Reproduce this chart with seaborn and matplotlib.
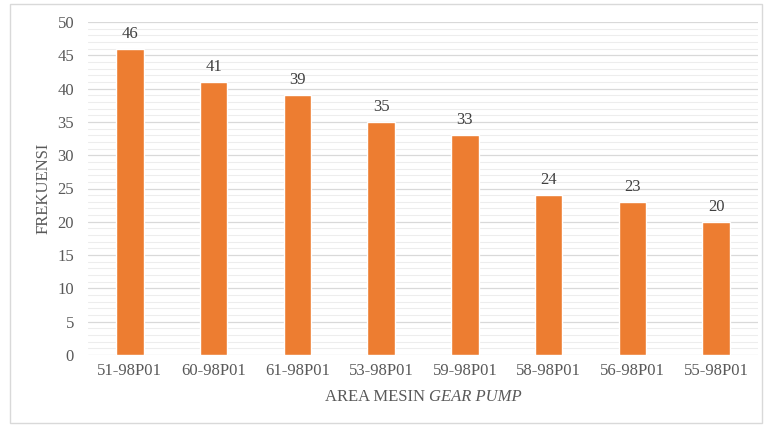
import matplotlib
matplotlib.use("Agg")
import matplotlib.pyplot as plt
import seaborn as sns
import pandas as pd
from matplotlib.patches import Rectangle
from matplotlib.ticker import MultipleLocator

categories = ["51-98P01", "60-98P01", "61-98P01", "53-98P01", "59-98P01", "58-98P01", "56-98P01", "55-98P01"]
values = [46, 41, 39, 35, 33, 24, 23, 20]

sns.set_theme(style="white")
plt.rcParams['font.family'] = ['Liberation Serif', 'DejaVu Serif']

df = pd.DataFrame({"area": categories, "freq": values})

fig = plt.figure(figsize=(7.66, 4.25), dpi=100)
ax = fig.add_axes([88/766, 1 - 355/425, (758 - 88)/766, (355 - 22)/425])

sns.barplot(data=df, x="area", y="freq", color="#ED7D31", saturation=1, width=0.33, ax=ax, zorder=3)

text_c = "#595959"
fs = 12
ax.set_ylim(0, 50)
ax.yaxis.set_major_locator(MultipleLocator(5))
ax.yaxis.set_minor_locator(MultipleLocator(1))
ax.grid(True, which="major", axis="y", color="#D9D9D9", linewidth=0.9, zorder=0)
ax.grid(True, which="minor", axis="y", color="#EDEDED", linewidth=0.8, zorder=0)
ax.set_axisbelow(True)
for s in ax.spines.values():
    s.set_visible(False)
ax.tick_params(axis="y", which="both", length=0, labelsize=fs, colors=text_c, pad=10)
ax.tick_params(axis="x", which="both", length=0, labelsize=fs, colors=text_c, pad=6)

for c in ax.containers:
    ax.bar_label(c, padding=5, fontsize=fs, color="#404040")

ax.set_ylabel("FREKUENSI", fontsize=fs, color=text_c, labelpad=4)
ax.set_xlabel("")

fig.canvas.draw()
r = fig.canvas.get_renderer()
y_lab = 1 - 397/425
t1 = fig.text(0, y_lab, "AREA MESIN ", ha="left", va="center", fontsize=fs, color=text_c)
t2 = fig.text(0, y_lab, "GEAR PUMP", ha="left", va="center", fontsize=fs, color=text_c, style="italic")
w1 = t1.get_window_extent(r).width
w2 = t2.get_window_extent(r).width
cx = (88 + 758) / 2
x0 = cx - (w1 + w2) / 2
t1.set_x(x0 / 766)
t2.set_x((x0 + w1) / 766)

fig.patches.append(Rectangle((10/766, 2/425), 752/766, 419/425, transform=fig.transFigure,
                             fill=False, edgecolor="#D9D9D9", linewidth=1.0))

fig.savefig("out.png", dpi=100)
